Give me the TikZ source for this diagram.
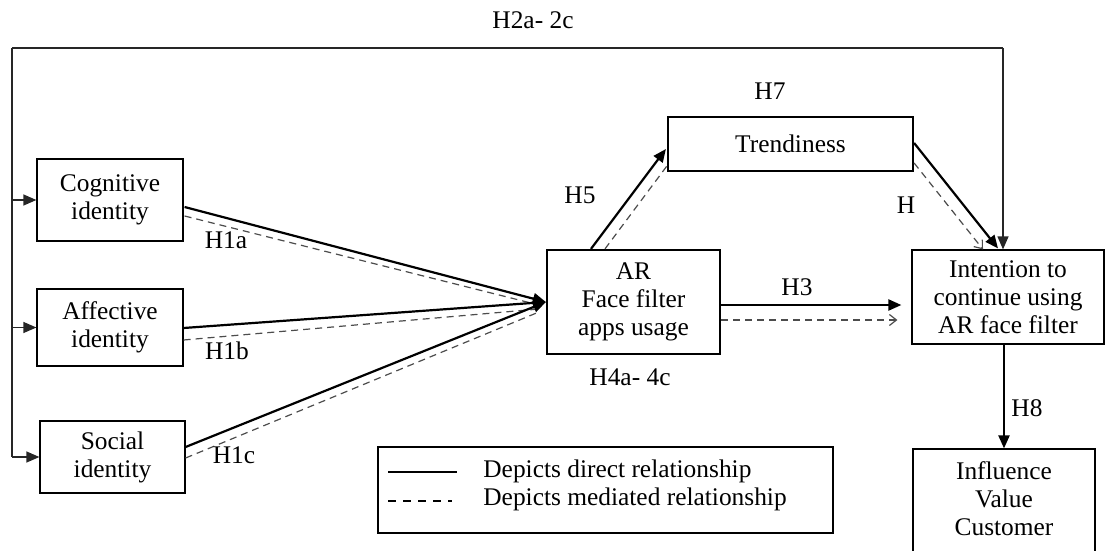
\documentclass[tikz,border=0pt]{standalone}
\usepackage{fontspec}
\setmainfont{Liberation Serif}
\usetikzlibrary{arrows.meta,calc,fit}
\begin{document}
\begin{tikzpicture}[x=0.5pt,y=-0.5pt,
  every node/.style={font=\fontsize{12.7}{14}\selectfont},
  thinbox/.style={draw, line width=0.6pt, inner sep=0pt, align=center},
  thickbox/.style={draw, line width=1.1pt, inner sep=0pt, align=center},
  lbl/.style={inner sep=0pt},
  direct/.style={line width=1.1pt, -{Triangle[length=6.5pt,width=5.5pt]}},
  mediated/.style={line width=0.6pt, black!70, dash pattern=on 3.5pt off 2.5pt},
  mediatedhead/.style={mediated, -{Straight Barb[length=3.5pt,width=5.5pt]}},
  feed/.style={line width=0.6pt, black!85},
  feedarrow/.style={feed, -{Triangle[length=6.5pt,width=5.5pt]}}
]
\useasboundingbox (0,0) rectangle (1108,551);
\clip (0,0) rectangle (1108,551);

% boxes
\node[thinbox, minimum width=73pt, minimum height=41pt] (cog) at (110,200) {Cognitive\\identity};
\node[thinbox, minimum width=73pt, minimum height=38.5pt] (aff) at (110,327.5) {Affective\\identity};
\node[thinbox, minimum width=72.5pt, minimum height=36pt] (soc) at (112.5,457) {Social\\identity};
\node[thickbox, minimum width=86.5pt, minimum height=52pt] (ar) at (633.5,302) {AR\\Face filter\\apps usage};
\node[thickbox, minimum width=122.5pt, minimum height=27pt] (tr) at (790.5,144) {Trendiness};
\node[thinbox, minimum width=96pt, minimum height=47pt] (int) at (1008,297) {Intention to\\continue using\\AR face filter};
\node[thinbox, fit={(913,449) (1095,562)}] (infl) {};
\node[lbl, align=center] (infltxt) at (1004,499) {Influence\\Value\\Customer};

% H2a-2c feedback lines
\coordinate (tl) at (12,48);
\coordinate (tr2) at (1003,48);
\draw[feed] (tl) -- (tr2);
\draw[feedarrow] (tr2) -- (tr2 |- int.north);
\draw[feed] (tl) -- (tl |- soc.west);
\draw[feedarrow] (tl |- cog.west) -- (cog.west);
\draw[feedarrow] (tl |- aff.west) -- (aff.west);
\draw[feedarrow] (tl |- soc.west) -- (soc.west);
\node[lbl] (h2) at (533,20) {H2a- 2c};

% H1a-c
\draw[mediated] ($(cog.east)+(1,16)$) -- ($(ar.west)+(-7,3)$);
\draw[mediated] ($(aff.east)+(0,12.5)$) -- ($(ar.west)+(-7,7)$);
\draw[mediated] ($(soc.east)+(0,1)$) -- ($(ar.west)+(-7,10)$);
\draw[direct] ($(cog.east)+(1,7)$) -- (ar.west);
\draw[direct] ($(aff.east)+(0,0.5)$) -- (ar.west);
\draw[direct] ($(soc.east)+(0,-10)$) -- (ar.west);
\node[lbl] (h1a) at (226,240) {H1a};
\node[lbl] (h1b) at (227,351) {H1b};
\node[lbl] (h1c) at (234,455) {H1c};

% H5
\draw[mediated] ($(ar.north)+(-28.5,0)$) -- ($(tr.west)+(0,22)$);
\draw[direct] ($(ar.north)+(-42.5,0)$) -- ($(tr.west)+(-1,5)$);
\node[lbl] (h5) at (580,195) {H5};
\node[lbl] (h7) at (770,91) {H7};

% H6 (H)
\draw[mediatedhead] ($(tr.east)+(0,19)$) -- ($(int.north)+(-25,0)$);
\draw[direct] ($(tr.east)+(0,-1)$) -- ($(int.north)+(-10,-1)$);
\node[lbl] (h6) at (906,205) {H};

% H3
\draw[direct] ($(ar.east)+(0,3)$) -- ($(int.west)+(-10,8)$);
\draw[mediatedhead] ($(ar.east)+(0,18)$) -- ($(int.west)+(-14,23)$);
\node[lbl] (h3) at (797,287) {H3};
\node[lbl] (h4) at (630,377) {H4a- 4c};

% H8
\draw[direct] ($(int.south)+(-4,0)$) -- (infl.north);
\node[lbl] (h8) at (1027,408) {H8};

% legend
\node[thinbox, fit={(378,447) (833,533)}] (legend) {};
\coordinate (ls1) at (388,472);
\coordinate (le1) at (457,472);
\coordinate (ls2) at (388,501);
\coordinate (le2) at (452,501);
\draw[line width=1.2pt] (ls1) -- (le1);
\draw[line width=1pt, dash pattern=on 4pt off 3.5pt] (ls2) -- (le2);
\node[lbl, anchor=west, align=left] (legtxt) at (483,485) {Depicts direct relationship\\Depicts mediated relationship};
\end{tikzpicture}
\end{document}
